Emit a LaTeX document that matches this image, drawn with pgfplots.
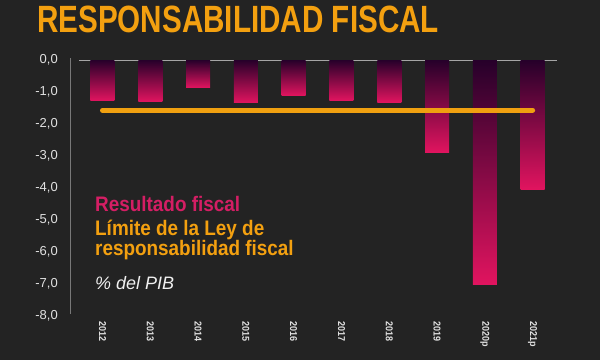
\documentclass[border=0pt]{standalone}
\usepackage{pgfplots}
\pgfplotsset{compat=1.18}
\usepackage{fontspec}
\setmainfont{Liberation Sans}
\newfontfamily\condfont[FakeStretch=0.9]{Liberation Sans}
\newfontfamily\titlefont[FakeStretch=0.78]{Liberation Sans}
\definecolor{bgc}{RGB}{35,35,35}
\definecolor{titleor}{RGB}{243,160,16}
\definecolor{lineor}{RGB}{240,160,16}
\definecolor{bardark}{RGB}{38,0,42}
\definecolor{barpink}{RGB}{225,20,95}
\definecolor{legpink}{RGB}{212,30,100}
\definecolor{tickc}{RGB}{225,225,225}
\definecolor{axgray}{RGB}{120,120,120}
\definecolor{zgray}{RGB}{165,165,165}
\pgfplotsset{gbar/.style={ybar, bar width=24pt, bar shift=0pt, draw=none, top color=bardark, bottom color=barpink}}
\begin{document}
\begin{tikzpicture}
\fill[bgc] (0pt,0pt) rectangle (600pt,360pt);
\path[use as bounding box] (0pt,0pt) rectangle (600pt,360pt);
\node[anchor=base west, inner sep=0pt, text=titleor, font=\titlefont\bfseries\fontsize{38}{38}\selectfont] at (37pt,328pt) {RESPONSABILIDAD FISCAL};
\begin{axis}[
  at={(70pt,44pt)}, anchor=south west,
  scale only axis, width=487pt, height=256pt,
  xmin=-0.68, xmax=9.51, ymin=-8, ymax=0,
  clip=false,
  axis line style={draw=none},
  major tick length=0pt,
  tick style={draw=none},
  xtick={0,1,2,3,4,5,6,7,8,9},
  xticklabels={2012,2013,2014,2015,2016,2017,2018,2019,2020p,2021p},
  ytick={-8,-7,-6,-5,-4,-3,-2,-1,0},
  /pgf/number format/assume math mode=true,
  /pgf/number format/fixed,
  /pgf/number format/fixed zerofill,
  /pgf/number format/precision=1,
  /pgf/number format/use comma,
  yticklabel style={anchor=east, inner sep=0pt, text=tickc, font=\fontsize{13}{13}\selectfont},
  yticklabel shift=12pt,
  xticklabel style={rotate=-90, anchor=west, inner sep=0pt, text=tickc, font=\condfont\bfseries\fontsize{10}{10}\selectfont},
  xticklabel shift=5pt,
]
\draw[axgray, line width=1pt] (axis cs:-0.68,0.05) -- (axis cs:-0.68,-7.95);
\draw[zgray, line width=1pt] (axis cs:-0.49,0) -- (axis cs:9.51,0);
\addplot[gbar] coordinates {(0,-1.27)};
\addplot[gbar] coordinates {(1,-1.30)};
\addplot[gbar] coordinates {(2,-0.87)};
\addplot[gbar] coordinates {(3,-1.34)};
\addplot[gbar] coordinates {(4,-1.11)};
\addplot[gbar] coordinates {(5,-1.27)};
\addplot[gbar] coordinates {(6,-1.32)};
\addplot[gbar] coordinates {(7,-2.89)};
\addplot[gbar] coordinates {(8,-7.02)};
\addplot[gbar] coordinates {(9,-4.04)};
\addplot[lineor, line width=5pt, line cap=round] coordinates {(0,-1.57) (9,-1.57)};
\end{axis}
\node[anchor=base west, inner sep=0pt, text=legpink, font=\condfont\bfseries\fontsize{21}{21}\selectfont] at (95pt,149pt) {Resultado fiscal};
\node[anchor=base west, inner sep=0pt, text=titleor, font=\condfont\bfseries\fontsize{21}{21}\selectfont] at (95pt,125pt) {Límite de la Ley de};
\node[anchor=base west, inner sep=0pt, text=titleor, font=\condfont\bfseries\fontsize{21}{21}\selectfont] at (95pt,105pt) {responsabilidad fiscal};
\node[anchor=base west, inner sep=0pt, text=white!94!black, font=\itshape\fontsize{18}{18}\selectfont] at (95pt,71pt) {\% del PIB};
\end{tikzpicture}
\end{document}
